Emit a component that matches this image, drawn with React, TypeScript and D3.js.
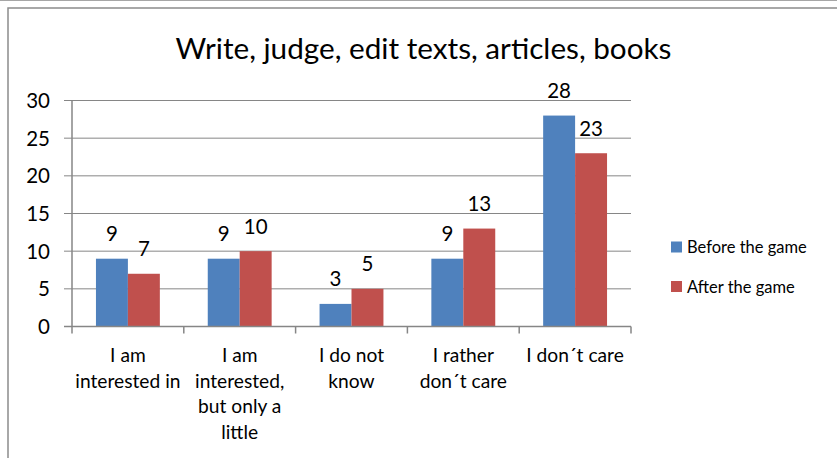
import React from "react";
import * as d3 from "d3";

const categories = [
  "I am\ninterested in",
  "I am\ninterested,\nbut only a\nlittle",
  "I do not\nknow",
  "I rather\ndon´t care",
  "I don´t care",
];
const seriesNames = ["Before the game", "After the game"];
const beforeValues = [9, 9, 3, 9, 28];
const afterValues = [7, 10, 5, 13, 23];
const yTicks = [0, 5, 10, 15, 20, 25, 30];
const colors = ["#4F81BD", "#C0504D"];

const W = 837;
const H = 458;
const FONT = "Lato, 'Open Sans', sans-serif";

export default function App() {
  const plot = { left: 72, right: 631, top: 100.5, bottom: 326.5 };
  const y = d3.scaleLinear().domain([0, 30]).range([plot.bottom, plot.top]);
  const x = d3.scaleBand<string>().domain(categories).range([plot.left, plot.right]).padding(0);
  const inner = d3
    .scaleBand<string>()
    .domain(seriesNames)
    .range([0, x.bandwidth()])
    .paddingInner(0)
    .paddingOuter(0.75);
  const series = [beforeValues, afterValues];
  const gridColor = "#868686";
  const boundaries = [...categories.map((c) => x(c) as number), plot.right];

  return (
    <svg
      width={W}
      height={H}
      style={{ position: "absolute", left: 0, top: 0, background: "#fff" }}
      fontFamily={FONT}
    >
      {/* outer frame */}
      <line x1={0} x2={W} y1={0.5} y2={0.5} stroke="#a6a6a6" strokeWidth={1} />
      <rect x={8} y={8} width={W + 20} height={H + 20} fill="#fff" stroke="#8c8c8c" strokeWidth={1.5} />

      {/* title */}
      <text x={423.5} y={59} textAnchor="middle" fontSize={29.7} fill="#000">
        Write, judge, edit texts, articles, books
      </text>

      {/* horizontal gridlines and y ticks */}
      {yTicks.map((t) => (
        <g key={t}>
          <line x1={64} x2={plot.right} y1={y(t)} y2={y(t)} stroke={gridColor} strokeWidth={1} />
          <text x={50} y={y(t)} dy="0.36em" textAnchor="end" fontSize={20.5} fill="#000">
            {t}
          </text>
        </g>
      ))}

      {/* bars */}
      {categories.map((c, i) =>
        series.map((vals, s) => {
          const bx = (x(c) as number) + (inner(seriesNames[s]) as number);
          const v = vals[i];
          return (
            <g key={`${i}-${s}`}>
              <rect
                x={bx}
                y={y(v)}
                width={inner.bandwidth()}
                height={y(0) - y(v)}
                fill={colors[s]}
              />
              <text
                x={bx + inner.bandwidth() / 2}
                y={y(v) - 17.5}
                textAnchor="middle"
                fontSize={20.5}
                fill="#000"
              >
                {v}
              </text>
            </g>
          );
        })
      )}

      {/* axes */}
      <line x1={plot.left} x2={plot.left} y1={plot.top} y2={plot.bottom} stroke={gridColor} strokeWidth={1.5} />
      <line x1={64} x2={plot.right} y1={plot.bottom} y2={plot.bottom} stroke={gridColor} strokeWidth={1.5} />
      {boundaries.map((bx, i) => (
        <line key={i} x1={bx} x2={bx} y1={plot.bottom} y2={plot.bottom + 7} stroke={gridColor} strokeWidth={1.5} />
      ))}

      {/* category labels */}
      {categories.map((c) => (
        <text
          key={c}
          x={(x(c) as number) + x.bandwidth() / 2}
          y={362}
          textAnchor="middle"
          fontSize={19.2}
          fill="#000"
        >
          {c.split("\n").map((line, k) => (
            <tspan key={k} x={(x(c) as number) + x.bandwidth() / 2} dy={k === 0 ? 0 : 25.7}>
              {line}
            </tspan>
          ))}
        </text>
      ))}

      {/* legend */}
      {seriesNames.map((name, s) => (
        <g key={name} transform={`translate(671, ${241.5 + s * 39.5})`}>
          <rect x={0} y={0} width={11} height={11} fill={colors[s]} />
          <text x={16} y={11.5} fontSize={16.5} fill="#000">
            {name}
          </text>
        </g>
      ))}
    </svg>
  );
}
